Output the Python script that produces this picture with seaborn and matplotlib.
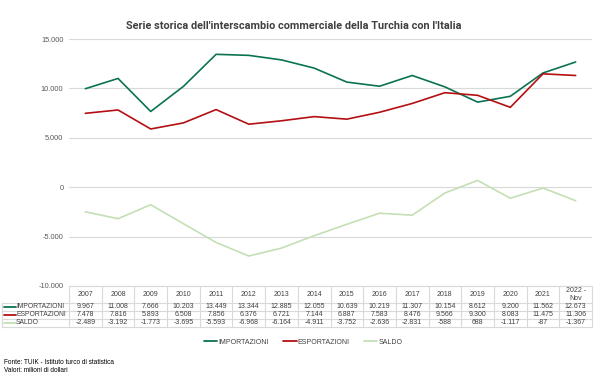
import numpy as np
import pandas as pd
import seaborn as sns
import matplotlib.pyplot as plt
from matplotlib.lines import Line2D

# dati (milioni di dollari)
anni = ["2007", "2008", "2009", "2010", "2011", "2012", "2013", "2014",
        "2015", "2016", "2017", "2018", "2019", "2020", "2021", "2022 -\nNov"]
importazioni = [9967, 11008, 7666, 10203, 13449, 13344, 12885, 12055,
                10639, 10219, 11307, 10154, 8612, 9200, 11562, 12673]
esportazioni = [7478, 7816, 5893, 6508, 7856, 6376, 6721, 7144,
                6887, 7583, 8476, 9566, 9300, 8083, 11475, 11306]
saldo = [-2489, -3192, -1773, -3695, -5593, -6968, -6164, -4911,
         -3752, -2636, -2831, -588, 688, -1117, -87, -1367]

serie = ["IMPORTAZIONI", "ESPORTAZIONI", "SALDO"]
colori = {"IMPORTAZIONI": "#0B7352", "ESPORTAZIONI": "#B40F12", "SALDO": "#C5DFB5"}


def fmt(v):
    return f"{v:,}".replace(",", ".")


sns.set_theme(style="white")
plt.rcParams["font.family"] = ["Liberation Sans", "DejaVu Sans"]

df = pd.DataFrame({
    "pos": list(range(len(anni))) * 3,
    "valore": importazioni + esportazioni + saldo,
    "serie": [s for s in serie for _ in anni],
})

W, H = 606, 379
fig = plt.figure(figsize=(W / 100, H / 100), dpi=100)
x0, x1, ytop, ybot = 69, 592, 39, 286
ax = fig.add_axes([x0 / W, 1 - ybot / H, (x1 - x0) / W, (ybot - ytop) / H])

sns.lineplot(data=df, x="pos", y="valore", hue="serie", palette=colori,
             hue_order=serie, linewidth=1.2, legend=False, ax=ax)

ax.set_xlim(-0.5, len(anni) - 0.5)
ax.set_ylim(-10000, 15000)
ax.set_yticks(range(-10000, 15001, 5000))
ax.set_yticklabels([fmt(v) for v in range(-10000, 15001, 5000)],
                   fontsize=5.3, color="#595959")
ax.tick_params(axis="y", length=0, pad=4)
ax.set_xticks([])
ax.set_xlabel("")
ax.set_ylabel("")
ax.grid(axis="y", color="#D9D9D9", linewidth=0.8)
for s in ax.spines.values():
    s.set_visible(False)

fig.text(294 / W, 1 - 26 / H,
         "Serie storica dell'interscambio commerciale della Turchia con l'Italia",
         fontsize=7.8, fontweight="bold", color="#404040", ha="center",
         va="center", family=["Roboto", "DejaVu Sans"])

# tabella dati sotto il grafico
tab_bottom = 327
tab = fig.add_axes([x0 / W, 1 - tab_bottom / H, (x1 - x0) / W, (tab_bottom - ybot) / H])
tab.set_xlim(-0.5, len(anni) - 0.5)
tab.set_ylim(tab_bottom, ybot)
tab.axis("off")
col_w = (x1 - x0) / len(anni)
lab_left = -0.5 - (x0 - 2) / col_w
lc = "#D9D9D9"
row_y = [ybot, 303, 311, 319, tab_bottom]
tab.plot([-0.5, len(anni) - 0.5], [ybot, ybot], color=lc, lw=0.8, clip_on=False)
for y in row_y[1:]:
    tab.plot([lab_left, len(anni) - 0.5], [y, y], color=lc, lw=0.8, clip_on=False)
for i in range(len(anni) + 1):
    tab.plot([i - 0.5, i - 0.5], [ybot, tab_bottom], color=lc, lw=0.8, clip_on=False)
tab.plot([lab_left, lab_left], [303, tab_bottom], color=lc, lw=0.8, clip_on=False)

for i, a in enumerate(anni):
    tab.text(i, (ybot + 303) / 2, a, ha="center", va="center", fontsize=5.0,
             color="#404040", linespacing=1.0)
valori = [importazioni, esportazioni, saldo]
for r, (nome, vals) in enumerate(zip(serie, valori)):
    yc = (row_y[r + 1] + row_y[r + 2]) / 2
    tab.plot([lab_left + 0.07, lab_left + 0.42], [yc, yc], color=colori[nome],
             lw=1.3, clip_on=False)
    tab.text(lab_left + 0.43, yc, nome, ha="left", va="center", fontsize=4.9,
             color="#404040", clip_on=False)
    for i, v in enumerate(vals):
        tab.text(i, yc, fmt(v), ha="center", va="center", fontsize=5.0,
                 color="#404040")

handles = [Line2D([0], [0], color=colori[s], lw=1.3) for s in serie]
fig.legend(handles, serie, loc="center", bbox_to_anchor=(0.50, 1 - 342 / H),
           ncol=3, frameon=False, fontsize=5.0, handlelength=2.0,
           handletextpad=0.15, columnspacing=2.0, labelcolor="#404040")

fig.text(4 / W, 1 - 363 / H, "Fonte: TUIK - Istituto turco di statistica",
         fontsize=4.7, va="center", color="black")
fig.text(4 / W, 1 - 371 / H, "Valori: milioni di dollari",
         fontsize=4.7, va="center", color="black")

fig.savefig("out.png", dpi=100, facecolor="white")
